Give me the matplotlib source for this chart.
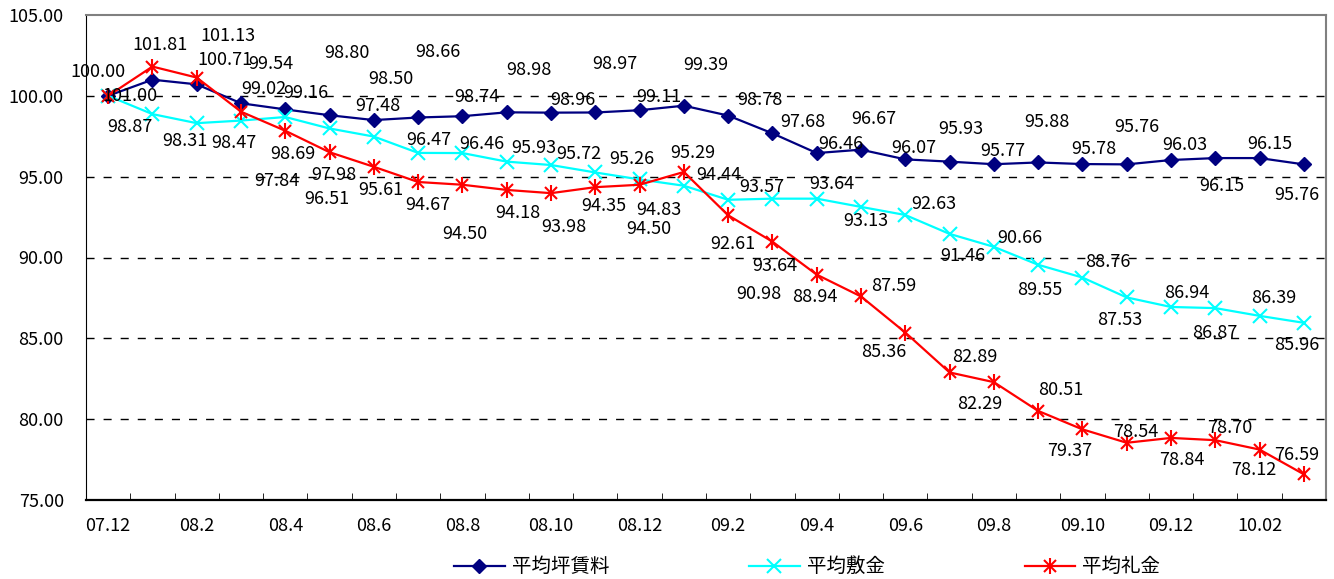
import matplotlib
matplotlib.use('Agg')
import matplotlib.pyplot as plt
from matplotlib.legend_handler import HandlerTuple

plt.rcParams['font.family'] = ['Noto Sans CJK JP', 'DejaVu Sans']

months = ['07.12', '08.1', '08.2', '08.3', '08.4', '08.5', '08.6', '08.7', '08.8', '08.9',
          '08.10', '08.11', '08.12', '09.1', '09.2', '09.3', '09.4', '09.5', '09.6', '09.7',
          '09.8', '09.9', '09.10', '09.11', '09.12', '10.01', '10.02', '10.03']
tick_labels = ['07.12', '08.2', '08.4', '08.6', '08.8', '08.10', '08.12',
               '09.2', '09.4', '09.6', '09.8', '09.10', '09.12', '10.02']

rent = [100.00, 101.00, 100.71, 99.54, 99.16, 98.80, 98.50, 98.66, 98.74, 98.98,
        98.96, 98.97, 99.11, 99.39, 98.78, 97.68, 96.46, 96.67, 96.07, 95.93,
        95.77, 95.88, 95.78, 95.76, 96.03, 96.15, 96.15, 95.76]
deposit = [100.00, 98.87, 98.31, 98.47, 98.69, 97.98, 97.48, 96.47, 96.46, 95.93,
           95.72, 95.26, 94.83, 94.44, 93.57, 93.64, 93.64, 93.13, 92.63, 91.46,
           90.66, 89.55, 88.76, 87.53, 86.94, 86.87, 86.39, 85.96]
key_money = [100.00, 101.81, 101.13, 99.02, 97.84, 96.51, 95.61, 94.67, 94.50, 94.18,
             93.98, 94.35, 94.50, 95.29, 92.61, 90.98, 88.94, 87.59, 85.36, 82.89,
             82.29, 80.51, 79.37, 78.54, 78.84, 78.70, 78.12, 76.59]

# label offsets in pixels (dx, dy up); None = no label
rent_off = [(-10, 24), (-22, -16), (28, 24), (30, 39), (21, 16), (17, 62), (17, 41),
            (20, 65), (14, 19), (22, 42), (22, 13), (20, 48), (19, 13), (22, 41),
            (32, 16), (30, 11), (24, 9), (13, 31), (9, 11), (11, 33), (9, 13),
            (9, 40), (11, 15), (10, 37), (14, 15), (7, -28), (10, 14), (-7, -31)]
deposit_off = [None, (-22, -13), (-12, -18), (-7, -22), (8, -37), (4, -47), (4, 31),
               (11, 13), (19, 9), (27, 14), (28, 11), (37, 13), (19, -31), (35, 11),
               (34, 13), (2, -67), (15, 15), (5, -14), (29, 11), (13, -22), (26, 9),
               (2, -25), (25, 16), (-7, -23), (16, 14), (0, -25), (14, 18), (-7, -22)]
key_off = [None, (8, 22), (31, 42), (23, 23), (-8, -50), (-3, -47), (7, -23),
           (10, -23), (2, -49), (11, -23), (13, -34), (9, -19), (9, -44), (9, 19),
           (5, -29), (-14, -52), (-2, -22), (33, 10), (-22, -19), (25, 15), (-14, -22),
           (23, 21), (-13, -22), (9, 11), (11, -22), (14, 12), (-6, -20), (-7, 19)]

fig = plt.figure(figsize=(13.34, 5.79), dpi=100)
ax = fig.add_axes([86 / 1334, 79 / 579, 1240 / 1334, 485 / 579])

x = list(range(len(months)))

l1, = ax.plot(x, rent, color='#000080', lw=1.6, marker='D', markersize=7, zorder=3)
l2, = ax.plot(x, deposit, color='#00FFFF', lw=1.6, marker='x', markersize=10, mew=1.5, zorder=3)
l3, = ax.plot(x, key_money, color='#FF0000', lw=1.6, marker='x', markersize=9, mew=1.5, zorder=3)
l3b, = ax.plot(x, key_money, color='#FF0000', ls='none', marker='|', markersize=12, mew=1.5, zorder=3)

for vals, offs in ((rent, rent_off), (deposit, deposit_off), (key_money, key_off)):
    for i, (v, off) in enumerate(zip(vals, offs)):
        if off is None:
            continue
        ax.annotate('%.2f' % v, (i, v), xytext=off, textcoords='offset pixels',
                    ha='center', va='center', fontsize=13, color='black', zorder=4)

ax.set_xlim(-0.5, len(months) - 0.5)
ax.set_ylim(75, 105)
yt = [75, 80, 85, 90, 95, 100, 105]
ax.set_yticks(yt)
ax.set_yticklabels(['%.2f' % t for t in yt], fontsize=13)
for t in [80, 85, 90, 95, 100]:
    ax.axhline(t, color='black', lw=1.0, ls=(0, (5.8, 6.5)), zorder=1)

ax.set_xticks(x[::2])
ax.set_xticklabels(tick_labels, fontsize=13)
ax.set_xticks([i - 0.5 for i in range(1, len(months))], minor=True)
ax.tick_params(axis='x', which='major', length=0, pad=12)
ax.tick_params(axis='x', which='minor', direction='in', length=5, color='black')
ax.tick_params(axis='y', length=0, pad=16)

ax.spines['left'].set_color('black')
ax.spines['bottom'].set_color('black')
ax.spines['bottom'].set_linewidth(1.6)
ax.spines['top'].set_color('#808080')
ax.spines['top'].set_linewidth(1.5)
ax.spines['right'].set_color('#808080')
ax.spines['right'].set_linewidth(1.5)

fig.legend([l1, l2, (l3, l3b)], ['平均坪賃料', '平均敷金', '平均礼金'],
           handler_map={tuple: HandlerTuple(ndivide=1, pad=0)},
           loc='center', bbox_to_anchor=(0.605, 0.021), ncol=3, frameon=False,
           fontsize=14, handlelength=2.6, columnspacing=7.2, handletextpad=0.36)

fig.savefig('out.png', dpi=100)
